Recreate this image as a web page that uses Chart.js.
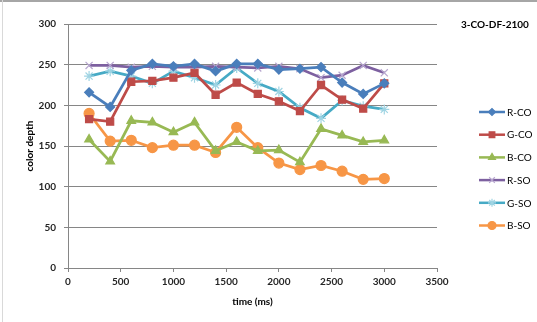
<!DOCTYPE html>
<html>
<head>
<meta charset="utf-8">
<script src="https://cdn.jsdelivr.net/npm/chart.js@4.4.0/dist/chart.umd.min.js"></script>
<style>
  html, body { margin: 0; padding: 0; background: #fff; }
  #wrap { width: 537px; height: 322px; position: relative; }
</style>
</head>
<body>
<div id="wrap"><canvas id="chart" width="537" height="322"></canvas></div>
<script>
// sample times (ms)
const times = [200, 400, 600, 800, 1000, 1200, 1400, 1600, 1800, 2000, 2200, 2400, 2600, 2800, 3000];

// color depth per channel
const rCO = [216, 198, 243, 251, 248, 251, 242, 251, 251, 244, 245, 247, 228, 214, 227];
const gCO = [183, 180, 229, 230, 234, 240, 213, 228, 214, 205, 193, 225, 207, 196, 227];
const bCO = [158, 131, 181, 179, 167, 179, 144, 155, 144, 145, 130, 171, 163, 155, 157];
const rSO = [249, 249, 247, 248, 247, 247, 248, 247, 246, 248, 245, 234, 237, 249, 240];
const gSO = [236, 242, 236, 227, 242, 234, 225, 246, 227, 217, 197, 184, 206, 199, 195];
const bSO = [190, 156, 157, 148, 151, 151, 142, 173, 148, 129, 121, 126, 119, 109, 110];

const seriesNames = ['R-CO', 'G-CO', 'B-CO', 'R-SO', 'G-SO', 'B-SO'];
const chartTitle = '3-CO-DF-2100';
const xTitle = 'time (ms)';
const yTitle = 'color depth';

const FONT = 'Lato, "Open Sans", "Liberation Sans", sans-serif';

function toPoints(values) {
  return values.map((v, i) => ({ x: times[i], y: v }));
}

const styles = [
  { color: '#4a7ebb', point: 'rectRot', radius: 4.5, fill: true },
  { color: '#be4b48', point: 'rect', radius: 5, fill: true },
  { color: '#98b954', point: 'triangle', radius: 5, fill: true },
  { color: '#7d60a0', point: 'crossRot', radius: 5, fill: false, marker: '#b7a6cf' },
  { color: '#46aac5', point: 'star', radius: 5, fill: false, marker: '#9fd4e3' },
  { color: '#f79646', point: 'circle', radius: 5, fill: true }
];

const allValues = [rCO, gCO, bCO, rSO, gSO, bSO];

const datasets = allValues.map((vals, i) => {
  const s = styles[i];
  return {
    label: seriesNames[i],
    data: toPoints(vals),
    borderColor: s.color,
    backgroundColor: s.color,
    borderWidth: 2.75,
    pointStyle: s.point,
    pointRadius: s.radius,
    pointBackgroundColor: s.fill ? s.color : 'transparent',
    pointBorderColor: s.marker || s.color,
    pointBorderWidth: 1.2,
    tension: 0
  };
});

// Excel-style legend (line + marker), chart title and y-axis title
const sidePlugin = {
  id: 'side',
  beforeDraw(chart) {
    const ctx = chart.ctx;
    ctx.save();
    ctx.fillStyle = '#fff';
    ctx.fillRect(0, 0, chart.width, chart.height);
    // sheet frame lines
    ctx.strokeStyle = '#a6a6a6';
    ctx.lineWidth = 2;
    ctx.beginPath();
    ctx.moveTo(0, 1);
    ctx.lineTo(chart.width, 1);
    ctx.stroke();
    ctx.strokeStyle = '#d9d9d9';
    ctx.lineWidth = 1;
    ctx.beginPath();
    ctx.moveTo(2.5, 0);
    ctx.lineTo(2.5, chart.height);
    ctx.stroke();
    ctx.restore();
  },
  afterDraw(chart) {
    const ctx = chart.ctx;
    const area = chart.chartArea;
    ctx.save();
    ctx.fillStyle = '#000';
    ctx.font = 'bold 10px ' + FONT;
    ctx.textAlign = 'left';
    ctx.textBaseline = 'middle';
    ctx.fillText(chartTitle, 461, 25);

    // y-axis title, just left of the tick labels
    ctx.save();
    ctx.setTransform(0, -1, 1, 0, 30, (area.top + area.bottom) / 2);
    ctx.textAlign = 'center';
    ctx.textBaseline = 'middle';
    ctx.fillText(yTitle, 0, 0);
    ctx.restore();

    ctx.font = '10px ' + FONT;
    chart.data.datasets.forEach((ds, i) => {
      const y = 112 + i * 22.7;
      ctx.strokeStyle = ds.borderColor;
      ctx.lineWidth = 2.5;
      ctx.beginPath();
      ctx.moveTo(479, y);
      ctx.lineTo(505, y);
      ctx.stroke();
      ctx.fillStyle = ds.pointBackgroundColor;
      ctx.strokeStyle = ds.pointBorderColor;
      ctx.lineWidth = ds.pointBorderWidth;
      Chart.helpers.drawPoint(ctx, {
        pointStyle: ds.pointStyle,
        radius: ds.pointRadius - 1,
        borderWidth: ds.pointBorderWidth
      }, 492, y);
      ctx.fillStyle = '#000';
      ctx.fillText(ds.label, 507, y + 0.5);
    });
    ctx.restore();
  }
};

new Chart(document.getElementById('chart'), {
  type: 'line',
  data: { datasets },
  plugins: [sidePlugin],
  options: {
    responsive: false,
    animation: false,
    devicePixelRatio: 1,
    layout: { padding: { top: 24, right: 100, left: 0, bottom: 0 } },
    plugins: {
      legend: { display: false },
      tooltip: { enabled: false }
    },
    scales: {
      x: {
        type: 'linear',
        min: 0,
        max: 3500,
        ticks: {
          stepSize: 500,
          color: '#262626',
          font: { family: FONT, size: 10, weight: 'bold' },
          padding: 4,
          maxRotation: 0,
          callback: v => String(v)
        },
        grid: {
          display: true,
          drawOnChartArea: false,
          drawTicks: true,
          tickLength: 4,
          color: '#868686'
        },
        border: { color: '#868686', width: 1 },
        title: {
          display: true,
          text: xTitle,
          color: '#000',
          font: { family: FONT, size: 10, weight: 'bold' },
          padding: { top: 2, bottom: 14 }
        },
        afterFit(scale) { scale.height = 54; }
      },
      y: {
        min: 0,
        max: 300,
        ticks: {
          stepSize: 50,
          color: '#262626',
          font: { family: FONT, size: 10, weight: 'bold' },
          padding: 8,
          callback: v => String(v)
        },
        grid: {
          color: '#868686',
          tickLength: 4
        },
        border: { color: '#868686', width: 1 },
        afterFit(scale) { scale.width = 68; }
      }
    }
  }
});
</script>
</body>
</html>
